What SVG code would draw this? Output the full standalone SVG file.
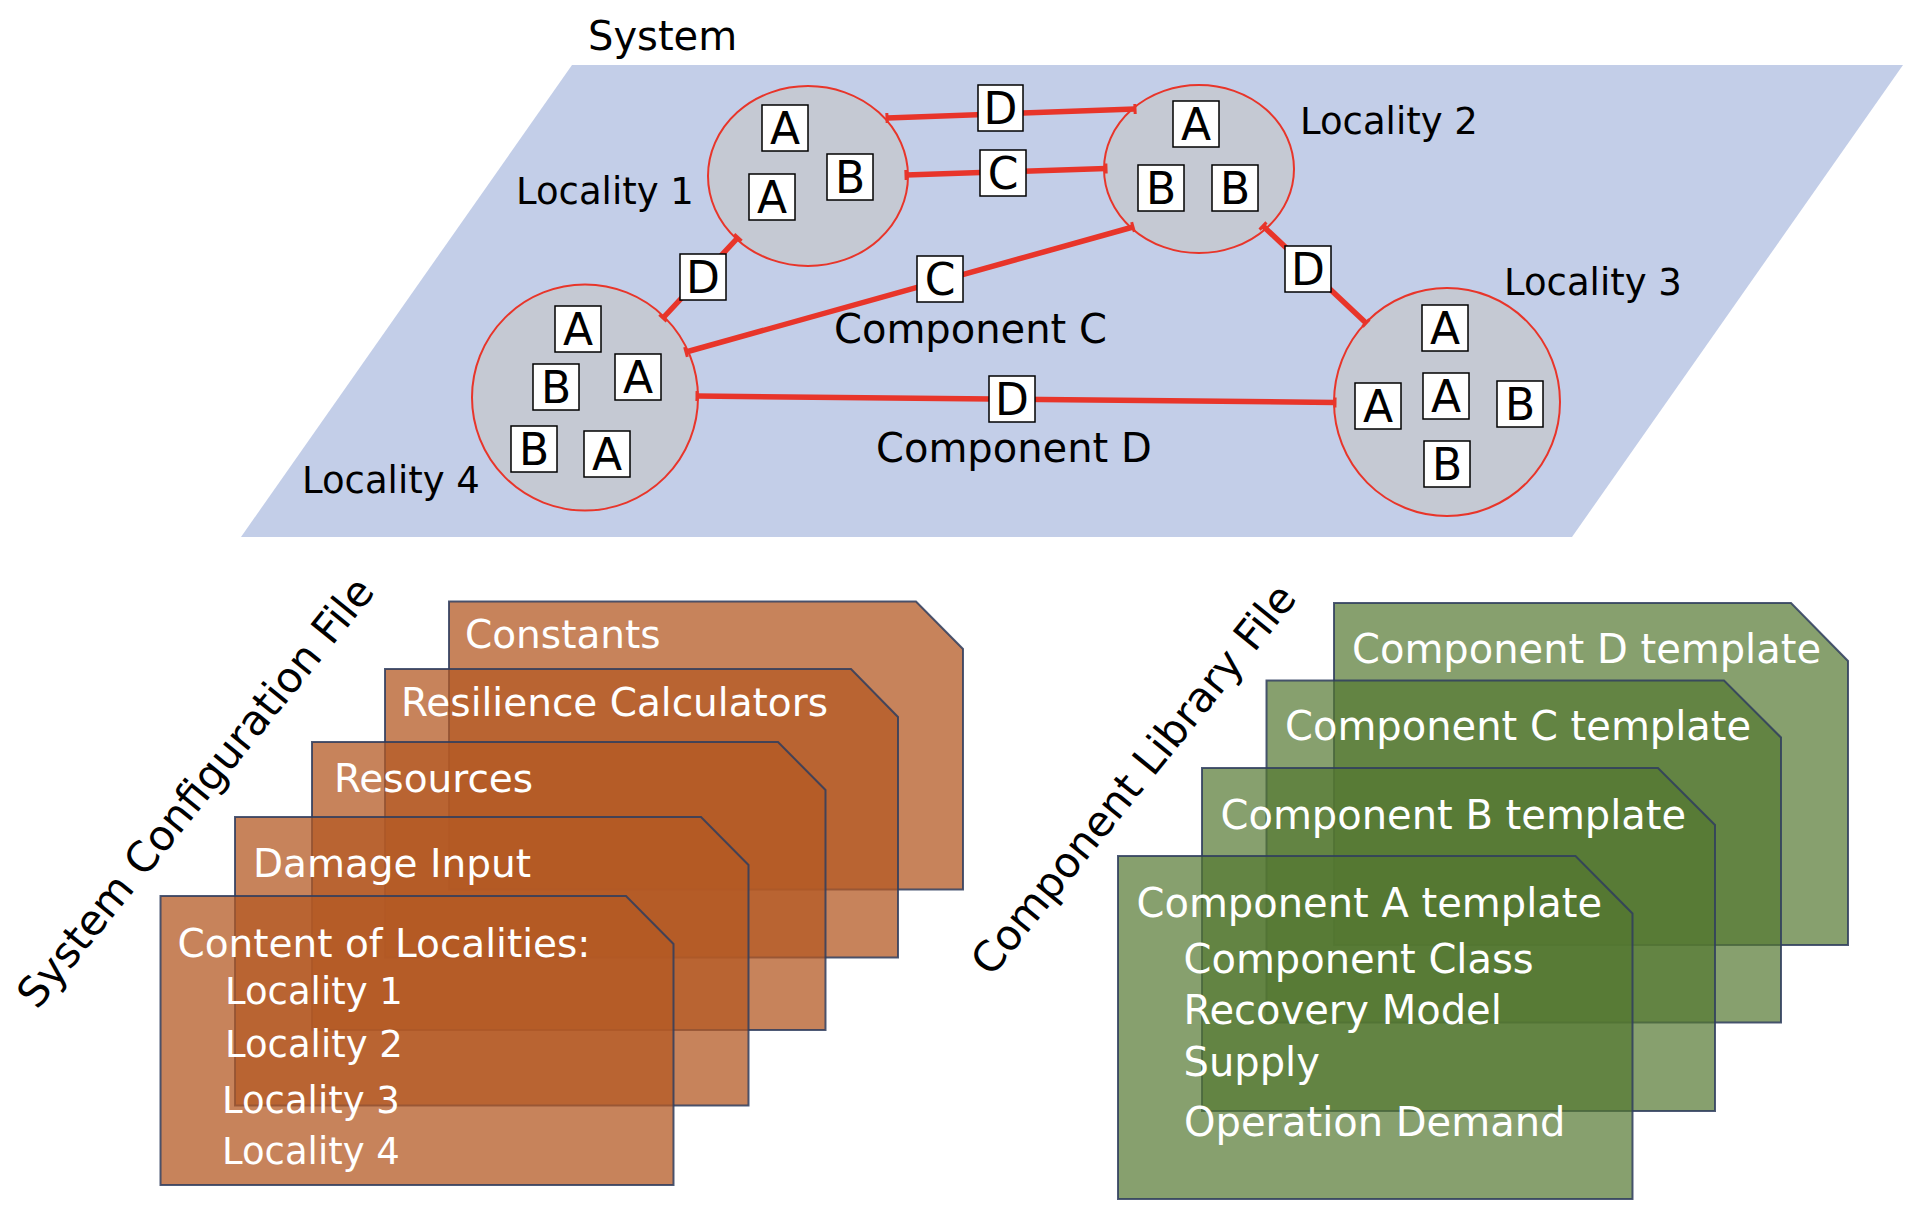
<svg xmlns="http://www.w3.org/2000/svg" width="1914" height="1218" viewBox="0 0 1914 1218">
<defs>
<style>
text{font-family:"DejaVu Sans","Liberation Sans",sans-serif;}
.lbl{font-size:37px;fill:#000;}
.big{font-size:40px;fill:#000;}
.loc{fill:#c5c9d3;stroke:#e8352a;stroke-width:2;}
.box{fill:#fff;stroke:#000;stroke-width:1.5;}
.bl{font-size:44px;fill:#000;text-anchor:middle;}
.conn{stroke:#e8352a;stroke-width:5.5;fill:none;marker-start:url(#tick);marker-end:url(#tick);}
.oc{fill:#b45a24;fill-opacity:0.75;stroke:#2f3d5e;stroke-width:2;stroke-opacity:0.85;}
.gc{fill:#547731;fill-opacity:0.7;stroke:#2f3d5e;stroke-width:2;stroke-opacity:0.85;}
.wt{fill:#fff;font-size:39px;}
.wl{fill:#fff;font-size:37px;}
.gt{fill:#fff;font-size:40px;}
.rot{font-size:42px;fill:#000;text-anchor:middle;}
</style>
<marker id="tick" markerUnits="userSpaceOnUse" markerWidth="8" markerHeight="14" viewBox="-4 -7 8 14" refX="0" refY="0" orient="auto">
<path d="M0,-5V5" stroke="#e8352a" stroke-width="3"/>
</marker>
</defs>

<g id="system-plane">
<polygon points="572,65 1903,65 1572,537 241,537" fill="#c3cee8"/>
<text x="588" y="50" class="big" font-size="42">System</text>
</g>

<g id="locality1">
<ellipse class="loc" cx="808" cy="176" rx="100" ry="90"/>
<rect class="box" x="762" y="105" width="46" height="46"/><text class="bl" x="785" y="144">A</text>
<rect class="box" x="827" y="154" width="46" height="46"/><text class="bl" x="850" y="193">B</text>
<rect class="box" x="749" y="174" width="46" height="46"/><text class="bl" x="772" y="213">A</text>
<text class="lbl" x="516" y="204">Locality 1</text>
</g>

<g id="locality2">
<ellipse class="loc" cx="1199" cy="169" rx="95" ry="84"/>
<rect class="box" x="1173" y="101" width="46" height="46"/><text class="bl" x="1196" y="140">A</text>
<rect class="box" x="1138" y="165" width="46" height="46"/><text class="bl" x="1161" y="204">B</text>
<rect class="box" x="1212" y="165" width="46" height="46"/><text class="bl" x="1235" y="204">B</text>
<text class="lbl" x="1300" y="134">Locality 2</text>
</g>

<g id="locality3">
<ellipse class="loc" cx="1447" cy="402" rx="113" ry="114"/>
<rect class="box" x="1422" y="305" width="46" height="46"/><text class="bl" x="1445" y="344">A</text>
<rect class="box" x="1423" y="373" width="46" height="46"/><text class="bl" x="1446" y="412">A</text>
<rect class="box" x="1355" y="383" width="46" height="46"/><text class="bl" x="1378" y="422">A</text>
<rect class="box" x="1497" y="381" width="46" height="46"/><text class="bl" x="1520" y="420">B</text>
<rect class="box" x="1424" y="441" width="46" height="46"/><text class="bl" x="1447" y="480">B</text>
<text class="lbl" x="1504" y="295">Locality 3</text>
</g>

<g id="locality4">
<ellipse class="loc" cx="585" cy="397.5" rx="113" ry="113"/>
<rect class="box" x="555" y="306" width="46" height="46"/><text class="bl" x="578" y="345">A</text>
<rect class="box" x="533" y="364" width="46" height="46"/><text class="bl" x="556" y="403">B</text>
<rect class="box" x="615" y="354" width="46" height="46"/><text class="bl" x="638" y="393">A</text>
<rect class="box" x="511" y="426" width="46" height="46"/><text class="bl" x="534" y="465">B</text>
<rect class="box" x="584" y="431" width="46" height="46"/><text class="bl" x="607" y="470">A</text>
<text class="lbl" x="302" y="493">Locality 4</text>
</g>

<g id="connectors">
<line class="conn" x1="887" y1="118" x2="1135" y2="109"/>
<line class="conn" x1="906" y1="175" x2="1106" y2="168.5"/>
<line class="conn" x1="738" y1="237.5" x2="663" y2="318"/>
<line class="conn" x1="686" y1="352" x2="1133" y2="227"/>
<line class="conn" x1="1263" y1="226" x2="1366" y2="323"/>
<line class="conn" x1="697" y1="396" x2="1335" y2="402.5"/>
<rect class="box" x="978" y="85" width="45" height="46"/><text class="bl" x="1000.5" y="124">D</text>
<rect class="box" x="980" y="150" width="46" height="46"/><text class="bl" x="1003" y="189">C</text>
<rect class="box" x="680" y="254" width="46" height="46"/><text class="bl" x="703" y="293">D</text>
<rect class="box" x="917" y="256" width="46" height="46"/><text class="bl" x="940" y="295">C</text>
<rect class="box" x="1285" y="246" width="46" height="46"/><text class="bl" x="1308" y="285">D</text>
<rect class="box" x="989" y="376" width="46" height="46"/><text class="bl" x="1012" y="415">D</text>
<text class="big" x="834" y="343">Component C</text>
<text class="big" x="876" y="462">Component D</text>
</g>

<g id="system-configuration-file">
<text class="rot" transform="translate(195,792) rotate(-51)" x="0" y="15">System Configuration File</text>
<g id="card-constants">
<path class="oc" d="M449,601.5 H916 L963,649 V889.5 H449 Z"/>
<text class="wt" x="465" y="648">Constants</text>
</g>
<g id="card-resilience">
<path class="oc" d="M385,669 H851 L898,717 V957.5 H385 Z"/>
<text class="wt" x="401" y="716">Resilience Calculators</text>
</g>
<g id="card-resources">
<path class="oc" d="M312,742 H778 L825.5,790 V1030 H312 Z"/>
<text class="wt" x="334" y="791.5">Resources</text>
</g>
<g id="card-damage">
<path class="oc" d="M235,817 H701 L748.5,865 V1105.5 H235 Z"/>
<text class="wt" x="253" y="877">Damage Input</text>
</g>
<g id="card-localities">
<path class="oc" d="M160.5,896 H626 L673.5,944 V1185 H160.5 Z"/>
<text class="wt" x="177.5" y="956.5">Content of Localities:</text>
<text class="wl" x="225" y="1003.5">Locality 1</text>
<text class="wl" x="225" y="1057">Locality 2</text>
<text class="wl" x="222" y="1113">Locality 3</text>
<text class="wl" x="222" y="1164">Locality 4</text>
</g>
</g>

<g id="component-library-file">
<text class="rot" font-size="44" transform="translate(1133,779) rotate(-51)" x="0" y="15">Component Library File</text>
<g id="card-d">
<path class="gc" d="M1334,603 H1791 L1848,661 V945 H1334 Z"/>
<text class="gt" x="1352" y="663">Component D template</text>
</g>
<g id="card-c">
<path class="gc" d="M1266.5,680.5 H1724 L1781,737.5 V1022.5 H1266.5 Z"/>
<text class="gt" x="1285" y="739.5">Component C template</text>
</g>
<g id="card-b">
<path class="gc" d="M1202,768 H1658 L1715,825 V1111 H1202 Z"/>
<text class="gt" x="1220.5" y="828.5">Component B template</text>
</g>
<g id="card-a">
<path class="gc" d="M1118,856 H1575.5 L1632.5,913.5 V1199 H1118 Z"/>
<text class="gt" x="1136.5" y="916.5">Component A template</text>
<text class="gt" x="1183.5" y="972.5">Component Class</text>
<text class="gt" x="1183.5" y="1023.5">Recovery Model</text>
<text class="gt" x="1183.5" y="1076">Supply</text>
<text class="gt" x="1184" y="1135.5">Operation Demand</text>
</g>
</g>
</svg>
